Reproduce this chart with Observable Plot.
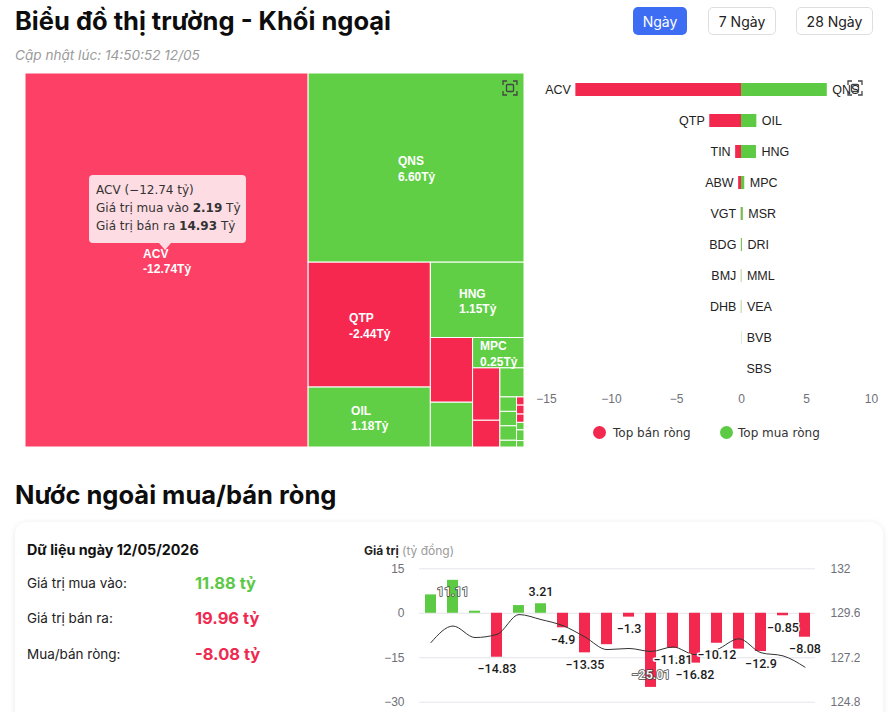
<!DOCTYPE html>
<html lang="vi"><head><meta charset="utf-8">
<script src="https://cdn.jsdelivr.net/npm/d3@7"></script>
<script src="https://cdn.jsdelivr.net/npm/@observablehq/plot@0.6"></script>
<style>
html,body{margin:0;padding:0;background:#fff;}
#page{position:relative;width:891px;height:712px;overflow:hidden;background:#fff;font-family:Inter,"Noto Sans",sans-serif;color:#111;}
.abs{position:absolute;}
.h1{font-weight:700;font-size:25.5px;line-height:30px;color:#0d0d0d;white-space:nowrap;}
.sub{font-style:italic;font-size:13.6px;line-height:16px;color:#9b9b9b;white-space:nowrap;}
.btn{box-sizing:border-box;height:28px;border-radius:5px;font-size:14px;display:flex;align-items:center;justify-content:center;white-space:nowrap;}
.btn.on{background:#3d6df2;color:#fff;}
.btn.off{background:#fff;color:#222;border:1px solid #dedede;}
.tip{background:#fddce3;border-radius:4px;font-family:"DejaVu Sans";font-size:12px;color:#333;line-height:18px;padding:6px 7px;box-sizing:border-box;white-space:nowrap;}
.tip b{font-weight:700;}
.tiparrow{width:0;height:0;border-left:6px solid transparent;border-right:6px solid transparent;border-top:7px solid #fddce3;}
.card{background:#fff;border-radius:12px;box-shadow:0 1px 6px rgba(0,0,0,0.09);}
.lbl{font-size:13.5px;line-height:20px;color:#222;white-space:nowrap;}
.val{font-size:16.5px;font-weight:700;line-height:20px;white-space:nowrap;}
.leg{font-family:"DejaVu Sans";font-size:12px;color:#333;line-height:16px;white-space:nowrap;}
.dot{width:13px;height:13px;border-radius:50%;}
svg{display:block;}
</style></head>
<body><div id="page">
  <div class="abs h1" style="left:15px;top:6px">Biểu đồ thị trường - Khối ngoại</div>
  <div class="abs sub" style="left:15px;top:47px">Cập nhật lúc: 14:50:52 12/05</div>
  <div class="abs btn on" style="left:633px;top:7px;width:54px">Ngày</div>
  <div class="abs btn off" style="left:708px;top:7px;width:68px">7 Ngày</div>
  <div class="abs btn off" style="left:796px;top:7px;width:77px">28 Ngày</div>

  <div id="treemap" class="abs" style="left:25px;top:73px"></div>
  <div id="bars" class="abs" style="left:530px;top:70px"></div>

  <div class="abs tip" id="tip" style="left:89px;top:175px;width:157px;height:68px"></div>
  <div class="abs tiparrow" style="left:159px;top:243px"></div>

  <svg class="abs" style="left:502px;top:80px" width="16" height="16" viewBox="0 0 16 16" fill="none" stroke="#444" stroke-width="1.3">
    <path d="M1 5V1h4M11 1h4v4M15 11v4h-4M5 15H1v-4"/><rect x="4.5" y="4.5" width="7" height="7" rx="1"/></svg>
  <svg class="abs" style="left:847px;top:80px" width="16" height="16" viewBox="0 0 16 16" fill="none" stroke="#444" stroke-width="1.3">
    <path d="M1 5V1h4M11 1h4v4M15 11v4h-4M5 15H1v-4"/><rect x="4.5" y="4.5" width="7" height="7" rx="1"/></svg>

  <div class="abs dot" style="left:593px;top:426px;background:#f2284e"></div>
  <div class="abs leg" style="left:613px;top:425px">Top bán ròng</div>
  <div class="abs dot" style="left:720px;top:426px;background:#5ccb43"></div>
  <div class="abs leg" style="left:738px;top:425px">Top mua ròng</div>

  <div class="abs h1" style="left:15px;top:480px">Nước ngoài mua/bán ròng</div>
  <div class="abs card" style="left:15px;top:522px;width:868px;height:230px"></div>

  <div class="abs" style="left:27px;top:541px;font-size:14.3px;font-weight:700;line-height:18px;color:#111;white-space:nowrap">Dữ liệu ngày 12/05/2026</div>
  <div class="abs lbl" style="left:27px;top:573px">Giá trị mua vào:</div>
  <div class="abs lbl" style="left:27px;top:608px">Giá trị bán ra:</div>
  <div class="abs lbl" style="left:27px;top:644px">Mua/bán ròng:</div>
  <div class="abs val" id="vBuy" style="left:195px;top:573px;color:#5cc946"></div>
  <div class="abs val" id="vSell" style="left:195px;top:608px;color:#ee2a50"></div>
  <div class="abs val" id="vNet" style="left:195px;top:644px;color:#ee2a50"></div>

  <div class="abs" style="left:364px;top:543px;font-size:12px;line-height:16px;white-space:nowrap"><b style="color:#222">Giá trị</b> <span style="color:#9a9a9a">(tỷ đồng)</span></div>
  <div id="flowBars" class="abs" style="left:360px;top:560px"></div>
  <div id="flowLine" class="abs" style="left:360px;top:560px"></div>
  <div id="flowLabels" class="abs" style="left:360px;top:560px"></div>
</div>
<script>
// ---------- Treemap data (hierarchy of cells, size = cell weight) ----------
const tmId     = ["root","ACV","G1","QNS","G2","G3","QTP","OIL","G4","HNG","G5","G6","TIN","MSR","G7","MPC","G8","G9","ABW","VGT","G10","DRI","G11","G12","MML","VEA","BVB","SBS","G13","BDG","BMJ","DHB","C1","C2","C3"];
const tmParent = [null,"root","root","G1","G1","G2","G3","G3","G2","G4","G4","G5","G6","G6","G5","G7","G7","G8","G9","G9","G8","G10","G10","G11","G12","G12","G12","G12","G11","G13","G13","G13","G13","G13","G13"];
const tmSize   = [0,1058,0,408,0,0,152.5,73.2,0,70.5,0,0,27.3,18.9,0,15.6,0,0,14.3,7.3,0,7.0,0,0,2.4,2.4,2.4,1.12,0,0.61,0.67,0.62,0.56,0.8,0.48];
const tmSide   = ["","sell","","buy","","","sell","buy","","buy","","","sell","buy","","buy","","","sell","sell","","buy","","","buy","buy","buy","buy","","sell","sell","sell","buy","buy","buy"];
const tmNet    = [null,-12.74,null,6.60,null,null,-2.44,1.18,null,1.15,null,null,null,null,null,0.25,null,null,null,null,null,null,null,null,null,null,null,null,null,null,null,null,null,null,null];
const tipName = "ACV", tipNet = -12.74, tipBuy = 2.19, tipSell = 14.93;

// ---------- Top buy / sell ----------
const sellNames  = ["ACV","QTP","TIN","ABW","VGT","BDG","BMJ","DHB","",""];
const sellValues = [-12.74,-2.44,-0.45,-0.22,-0.02,-0.01,-0.01,-0.01,0,0];
const buyNames   = ["QNS","OIL","HNG","MPC","MSR","DRI","MML","VEA","BVB","SBS"];
const buyValues  = [6.60,1.18,1.15,0.25,0.14,0.07,0.03,0.03,0.02,0];
const xTicks = [-15,-10,-5,0,5,10];

// ---------- Foreign net flow ----------
const days = ["14/04","15/04","16/04","17/04","20/04","21/04","22/04","23/04","24/04","28/04","29/04","04/05","05/05","06/05","07/05","08/05","11/05","12/05"];
const netValues = [6.2,11.11,0.7,-14.83,2.6,3.21,-4.9,-13.35,-10.6,-1.3,-25.01,-11.81,-16.82,-10.12,-12.1,-12.9,-0.85,-8.08];
const barLabels = [null,"11.11",null,"−14.83",null,"3.21","−4.9","−13.35",null,"−1.3","−25.01","−11.81","−16.82","−10.12",null,"−12.9","−0.85","−8.08"];
const indexValues = [128.02,128.91,128.29,128.46,129.53,129.26,128.93,128.32,127.64,127.70,127.54,127.78,127.37,127.64,128.22,127.47,127.30,126.69];
const leftTicks = [-30,-15,0,15];
const rightTicks = [124.8,127.2,129.6,132];
const dayBuy = 11.88, daySell = 19.96, dayNet = -8.08;

const RED = "#f2284e", GREEN = "#5ccb43";

// ---------- text panels ----------
document.getElementById("tip").innerHTML =
  `${tipName} (−${Math.abs(tipNet).toFixed(2)} tỷ)<br>Giá trị mua vào <b>${tipBuy.toFixed(2)}</b> Tỷ<br>Giá trị bán ra <b>${tipSell.toFixed(2)}</b> Tỷ`;
document.getElementById("vBuy").textContent = dayBuy.toFixed(2) + " tỷ";
document.getElementById("vSell").textContent = daySell.toFixed(2) + " tỷ";
document.getElementById("vNet").textContent = dayNet.toFixed(2) + " tỷ";

// ---------- Treemap ----------
const tmRows = tmId.map((id, i) => ({id, parent: tmParent[i], size: tmSize[i], side: tmSide[i], net: tmNet[i]}));
const root = d3.stratify().id(d => d.id).parentId(d => d.parent)(tmRows).sum(d => d.size);
const TW = 499, TH = 374;
d3.treemap().tile(d3.treemapSliceDice).size([TW, TH]).round(false)(root);
const leaves = root.leaves();
const ctx = document.createElement("canvas").getContext("2d");
ctx.font = "bold 12px 'Liberation Sans'";
const labeled = leaves.filter(d => d.data.net != null).map(d => {
  const l1 = d.data.id, l2 = d.data.net.toFixed(2) + "Tỷ";
  const w = Math.max(ctx.measureText(l1).width, ctx.measureText(l2).width);
  return {x: (d.x0 + d.x1) / 2 - w / 2, y: (d.y0 + d.y1) / 2, text: l1 + "\n" + l2};
});
document.getElementById("treemap").append(Plot.plot({
  width: TW, height: TH, margin: 0,
  x: {type: "identity"}, y: {type: "identity"},
  style: {background: "transparent"},
  marks: [
    Plot.rect(leaves, {x1: "x0", x2: "x1", y1: "y0", y2: "y1",
      fill: d => d.data.side === "sell" ? (d.data.id === tipName ? "#fd4066" : "#f7284f") : "#60cf45",
      stroke: "white", strokeWidth: 1}),
    Plot.text(labeled, {x: "x", y: "y", text: "text", textAnchor: "start", lineHeight: 1.3,
      fill: "white", fontSize: 12, fontWeight: "bold", fontFamily: "Liberation Sans"})
  ]
}));

// ---------- Top buy/sell bars ----------
const rows = d3.range(10);
document.getElementById("bars").append(Plot.plot({
  width: 360, height: 345, marginLeft: 16, marginRight: 19, marginTop: 3.4, marginBottom: 29.4,
  style: {fontFamily: "Liberation Sans", fontSize: "12px", color: "#6e7079", background: "transparent"},
  x: {domain: [-15, 10], ticks: xTicks, tickSize: 0, tickPadding: 8, label: null},
  y: {type: "band", domain: rows, paddingInner: 0.57, paddingOuter: 0.285, axis: null},
  marks: [
    Plot.barX(rows.filter(i => sellNames[i]), {x1: 0, x2: i => sellValues[i], y: i => i, fill: RED}),
    Plot.barX(rows, {x1: 0, x2: i => buyValues[i], y: i => i, fill: GREEN}),
    Plot.text(rows.filter(i => sellNames[i]), {x: i => sellValues[i], y: i => i, text: i => sellNames[i],
      textAnchor: "end", dx: -5, fill: "#222", fontSize: 12.5}),
    Plot.text(rows, {x: i => buyValues[i], y: i => i, text: i => buyNames[i],
      textAnchor: "start", dx: 5, fill: "#222", fontSize: 12.5})
  ]
}));

// ---------- Net flow chart ----------
const idx = d3.range(days.length);
const outlined = new Set([1, 10]);
const common = {
  width: 500, height: 152, marginLeft: 59, marginRight: 45, marginTop: 8.3, marginBottom: 10.3,
  style: {fontFamily: "Liberation Sans", fontSize: "12px", color: "#6e7079", background: "transparent"},
};
const xBand = {type: "band", domain: days, paddingInner: 0.5, paddingOuter: 0.25, axis: null};
const lab = idx.filter(i => barLabels[i] && !outlined.has(i));
const labO = idx.filter(i => barLabels[i] && outlined.has(i));

// left axis: net buy/sell bars
document.getElementById("flowBars").append(Plot.plot({
  ...common,
  x: xBand,
  y: {domain: [-30, 15], ticks: leftTicks, tickSize: 0, tickPadding: 15, label: null},
  marks: [
    Plot.ruleY(leftTicks, {stroke: "#e3e5ea", strokeWidth: 1}),
    Plot.barY(idx, {x: i => days[i], y1: 0, y2: i => netValues[i], fill: i => netValues[i] >= 0 ? GREEN : RED})
  ]
}));

// right axis: index line
document.getElementById("flowLine").append(Plot.plot({
  ...common,
  x: xBand,
  y: {domain: [124.8, 132], ticks: rightTicks, tickFormat: d => String(d), tickSize: 0, tickPadding: 15, label: null, axis: "right"},
  marks: [
    Plot.line(idx, {x: i => days[i], y: i => indexValues[i], curve: "monotone-x", stroke: "#333", strokeWidth: 1})
  ]
}));

// value labels on top (left-axis coordinates)
const labStyle = {fontSize: 12.5, fontWeight: 500, fontFamily: "Roboto", lineAnchor: "middle"};
document.getElementById("flowLabels").append(Plot.plot({
  ...common,
  x: xBand,
  y: {domain: [-30, 15], axis: null},
  marks: [
    Plot.text(lab.filter(i => netValues[i] < 0), {x: i => days[i], y: i => netValues[i], text: i => barLabels[i],
      fill: "#1d1d1d", stroke: "white", strokeWidth: 3, paintOrder: "stroke", dy: 12, ...labStyle}),
    Plot.text(lab.filter(i => netValues[i] >= 0), {x: i => days[i], y: i => netValues[i], text: i => barLabels[i],
      fill: "#1d1d1d", stroke: "white", strokeWidth: 3, paintOrder: "stroke", dy: -12, ...labStyle}),
    Plot.text(labO.filter(i => netValues[i] >= 0), {x: i => days[i], y: i => netValues[i], text: i => barLabels[i],
      fill: "white", stroke: "#444", strokeWidth: 1.6, paintOrder: "stroke", dy: 12, ...labStyle}),
    Plot.text(labO.filter(i => netValues[i] < 0), {x: i => days[i], y: i => netValues[i], text: i => barLabels[i],
      fill: "white", stroke: "#444", strokeWidth: 1.6, paintOrder: "stroke", dy: -12, ...labStyle})
  ]
}));
</script>
</body></html>
